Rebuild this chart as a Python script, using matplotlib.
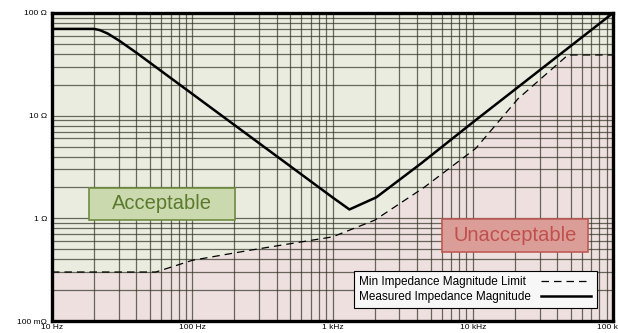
import numpy as np
import matplotlib
matplotlib.use("Agg")
import matplotlib.pyplot as plt
from matplotlib.patches import Rectangle

plt.rcParams["font.family"] = ["Liberation Sans", "DejaVu Sans"]

# Measured impedance magnitude (Hz, ohm)
meas_freq = [10, 20, 22, 25, 30, 40, 100, 1000, 1320, 2050, 4250, 10000, 100000]
meas_ohm = [70, 70, 68, 63, 54, 41, 16.3, 1.6, 1.22, 1.6, 3.4, 8.6, 100]

# Minimum impedance magnitude limit (Hz, ohm)
lim_freq = [10, 55, 100, 260, 1000, 2000, 4470, 10500, 21000, 47700, 100000]
lim_ohm = [0.3, 0.3, 0.39, 0.49, 0.66, 0.96, 1.99, 4.8, 14.6, 39, 39]

x_ticks = [10, 100, 1000, 10000, 100000]
x_labels = ["10 Hz", "100 Hz", "1 kHz", "10 kHz", "100 kHz"]
y_ticks = [0.1, 1, 10, 100]
y_labels = ["100 m\u03a9", "1 \u03a9", "10 \u03a9", "100 \u03a9"]

fig = plt.figure(figsize=(6.18, 3.33), dpi=100)
ax = fig.add_axes([0.0841, 0.036, 0.9079, 0.925])
ax.set_xscale("log")
ax.set_yscale("log")
ax.set_xlim(10, 100000)
ax.set_ylim(0.1, 100)
ax.set_facecolor("#e9ecdf")

# unacceptable region below the limit
ax.fill_between(lim_freq, 0.1, lim_ohm, color="#efe0e0", zorder=1, lw=0)

ax.grid(True, which="both", color="#2e3020", alpha=0.7, lw=0.9, zorder=2)
ax.set_axisbelow(False)

ax.plot(lim_freq, lim_ohm, color="black", lw=0.9, dashes=(6, 4),
        label="Min Impedance Magnitude Limit", zorder=3)
ax.plot(meas_freq, meas_ohm, color="black", lw=1.8,
        label="Measured Impedance Magnitude", zorder=3)

ax.set_xticks(x_ticks)
ax.set_xticklabels(x_labels, fontsize=6)
ax.set_yticks(y_ticks)
ax.set_yticklabels(y_labels, fontsize=6)
ax.tick_params(which="both", length=0)
ax.tick_params(axis="x", pad=2.5)
ax.tick_params(axis="y", pad=3.5)
for s in ax.spines.values():
    s.set_linewidth(2.4)
    s.set_color("black")
    s.set_zorder(6)

# region labels
ax.add_patch(Rectangle((0.066, 0.328), 0.260, 0.104, transform=ax.transAxes,
                       facecolor="#cbd9ae", edgecolor="#6f8c3f", lw=1.2, zorder=4))
ax.text(0.196, 0.380, "Acceptable", transform=ax.transAxes, ha="center",
        va="center", fontsize=14.5, color="#5b7a30", zorder=5)
ax.add_patch(Rectangle((0.695, 0.224), 0.260, 0.107, transform=ax.transAxes,
                       facecolor="#db9d97", edgecolor="#bf5a55", lw=1.2, zorder=4))
ax.text(0.825, 0.278, "Unacceptable", transform=ax.transAxes, ha="center",
        va="center", fontsize=14.5, color="#c0504d", zorder=5)

leg = ax.legend(loc="lower right", bbox_to_anchor=(0.971, 0.042), borderaxespad=0,
                markerfirst=False, fontsize=8.5, handlelength=4.3, labelspacing=0.2,
                borderpad=0.45, handletextpad=0.8, fancybox=False, framealpha=1,
                edgecolor="black", facecolor="#f7f7f7")
leg.get_frame().set_linewidth(0.8)
leg.set_zorder(7)

# left-align the labels while keeping the line samples in one column
fig.canvas.draw()
r = fig.canvas.get_renderer()
widths = [t.get_window_extent(r).width for t in leg.get_texts()]
rows = leg._legend_handle_box.get_children()[0].get_children()
for row, w in zip(rows, widths):
    row.sep = row.sep + (max(widths) - w) * 72 / fig.dpi

fig.savefig("out.png", dpi=100)
